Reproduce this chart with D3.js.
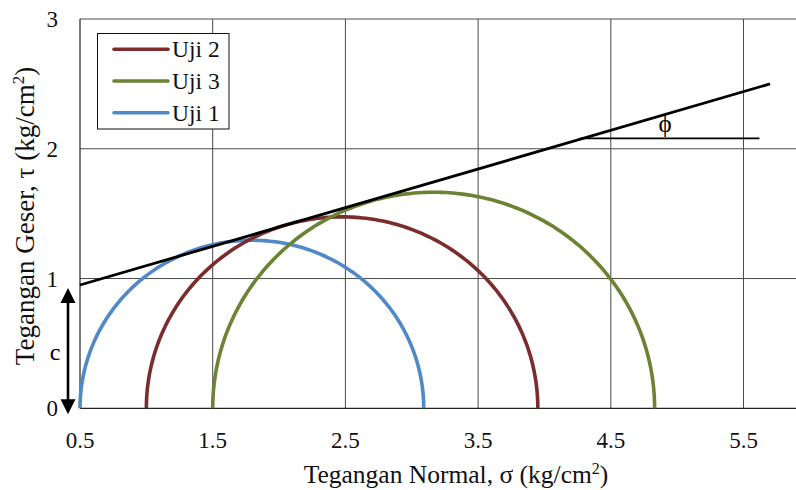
<!DOCTYPE html>
<html>
<head>
<meta charset="utf-8">
<script src="https://cdn.jsdelivr.net/npm/d3@7"></script>
<style>
  html, body { margin: 0; padding: 0; background: #fff; }
  svg text { font-family: "Liberation Serif", "Times New Roman", Times, serif; }
</style>
</head>
<body>
<svg id="chart" width="796" height="490"></svg>
<script>
// ---- data ----
const xTicks = [0.5, 1.5, 2.5, 3.5, 4.5, 5.5];
const yTicks = [0, 1, 2, 3];
const seriesNames = ["Uji 2", "Uji 3", "Uji 1"];
const seriesColors = ["#7b2c2c", "#6c8235", "#5088c8"];
const sigma3 = [1.0, 1.5, 0.5];     // left end of each Mohr circle
const sigma1 = [3.95, 4.83, 3.09];  // right end of each Mohr circle
const envelopeX = [0.5, 5.7];
const envelopeY = [0.95, 2.5];
const phiX = [4.27, 5.62];
const phiY = [2.08, 2.08];
const cohesion = 0.95;

const FONT = '"Liberation Serif", "Times New Roman", Times, serif';
const svg = d3.select("#chart");
const x = d3.scaleLinear().domain([0.5, 5.9]).range([80, 796.6]);
const y = d3.scaleLinear().domain([0, 3]).range([408.3, 19]);

// gridlines
svg.append("g").selectAll("line.v").data(xTicks.slice(1)).join("line")
  .attr("x1", d => x(d)).attr("x2", d => x(d))
  .attr("y1", y(0)).attr("y2", y(3))
  .attr("stroke", "#4a4a4a").attr("stroke-width", 1);
svg.append("g").selectAll("line.h").data(yTicks.slice(1)).join("line")
  .attr("x1", x(0.5)).attr("x2", 796)
  .attr("y1", d => y(d)).attr("y2", d => y(d))
  .attr("stroke", "#4a4a4a").attr("stroke-width", 1);

// axes lines
svg.append("line").attr("x1", x(0.5)).attr("x2", x(0.5)).attr("y1", y(0)).attr("y2", y(3))
  .attr("stroke", "#222").attr("stroke-width", 1.2);
svg.append("line").attr("x1", x(0.5)).attr("x2", 796).attr("y1", y(0)).attr("y2", y(0))
  .attr("stroke", "#222").attr("stroke-width", 1.2);

// tick labels
svg.append("g").selectAll("text").data(xTicks).join("text")
  .attr("font-family", FONT)
  .attr("x", d => x(d)).attr("y", 448)
  .attr("text-anchor", "middle").attr("font-size", 23).attr("fill", "#111")
  .text(d => d.toFixed(1));
svg.append("g").selectAll("text").data(yTicks).join("text")
  .attr("font-family", FONT)
  .attr("x", 58).attr("y", d => y(d) + 8)
  .attr("text-anchor", "end").attr("font-size", 23).attr("fill", "#111")
  .text(d => d);

// Mohr circles (semicircles)
const line = d3.line().x(d => x(d[0])).y(d => y(d[1]));
const angles = d3.range(0, 181, 1).map(a => a * Math.PI / 180);
const order = [2, 0, 1];
order.forEach(i => {
  const c = (sigma1[i] + sigma3[i]) / 2, r = (sigma1[i] - sigma3[i]) / 2;
  const pts = angles.map(a => [c - r * Math.cos(a), r * Math.sin(a)]);
  svg.append("path").attr("d", line(pts)).attr("fill", "none")
    .attr("stroke", seriesColors[i]).attr("stroke-width", 3.6);
});

// failure envelope
svg.append("path").attr("d", line(envelopeX.map((d, i) => [d, envelopeY[i]])))
  .attr("fill", "none").attr("stroke", "#000").attr("stroke-width", 2.8);
svg.append("path").attr("d", line(phiX.map((d, i) => [d, phiY[i]])))
  .attr("fill", "none").attr("stroke", "#000").attr("stroke-width", 1.8);
svg.append("text").attr("font-family", FONT).attr("x", 665).attr("y", 132)
  .attr("text-anchor", "middle").attr("font-size", 25).text("ϕ");

// cohesion arrow
const ax = 68;
const topTip = y(cohesion) + 3, botTip = y(0) + 6;
svg.append("line").attr("x1", ax).attr("x2", ax).attr("y1", topTip + 10).attr("y2", botTip - 10)
  .attr("stroke", "#000").attr("stroke-width", 2.6);
svg.append("path").attr("d", `M${ax},${topTip} L${ax - 7.5},${topTip + 15} L${ax + 7.5},${topTip + 15} Z`).attr("fill", "#000");
svg.append("path").attr("d", `M${ax},${botTip} L${ax - 7.5},${botTip - 15} L${ax + 7.5},${botTip - 15} Z`).attr("fill", "#000");
svg.append("text").attr("font-family", FONT).attr("x", 55).attr("y", 360).attr("text-anchor", "middle")
  .attr("font-size", 24).text("c");

// legend
const lg = svg.append("g");
lg.append("rect").attr("x", 97.5).attr("y", 33.5).attr("width", 131.5).attr("height", 95.5)
  .attr("fill", "#fff").attr("stroke", "#111").attr("stroke-width", 1);
seriesNames.forEach((n, i) => {
  const yy = 49.3 + i * 31.7;
  lg.append("line").attr("x1", 114).attr("x2", 168).attr("y1", yy).attr("y2", yy)
    .attr("stroke", seriesColors[i]).attr("stroke-width", 3.6).attr("stroke-linecap", "round");
  lg.append("text").attr("font-family", FONT).attr("x", 172).attr("y", yy + 8)
    .attr("font-size", 23.5).attr("fill", "#111").text(n);
});

// axis titles
const xt = svg.append("text").attr("font-family", FONT).attr("x", 456).attr("y", 483).attr("text-anchor", "middle")
  .attr("font-size", 25.5).attr("fill", "#111");
xt.append("tspan").text("Tegangan Normal, σ (kg/cm");
xt.append("tspan").attr("font-size", 16).attr("dy", -9).text("2");
xt.append("tspan").attr("dy", 9).text(")");

const yt = svg.append("text").attr("font-family", FONT).attr("transform", "translate(34,216) rotate(-90)")
  .attr("text-anchor", "middle").attr("font-size", 27).attr("fill", "#111");
yt.append("tspan").text("Tegangan Geser, τ (kg/cm");
yt.append("tspan").attr("font-size", 17).attr("dy", -10).text("2");
yt.append("tspan").attr("dy", 10).text(")");
</script>
</body>
</html>
